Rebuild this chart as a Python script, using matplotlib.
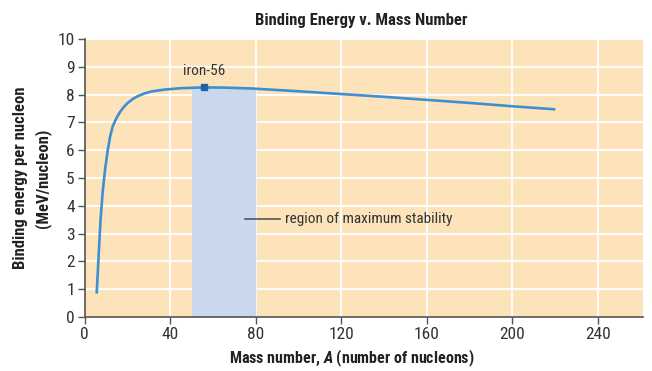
import matplotlib
matplotlib.use("Agg")
import matplotlib.pyplot as plt
from matplotlib import font_manager
import numpy as np

names = {f.name for f in font_manager.fontManager.ttflist}
prefs = ["Liberation Sans Narrow", "Arial Narrow", "Roboto Condensed", "Archivo Narrow",
         "Open Sans Condensed", "Barlow Semi Condensed", "Asap Condensed", "Liberation Sans"]
fam = next((p for p in prefs if p in names), "DejaVu Sans")
plt.rcParams['font.family'] = [fam, 'DejaVu Sans']
plt.rcParams['mathtext.fontset'] = 'custom'
plt.rcParams['mathtext.bfit'] = f'{fam}:bold:italic'

# Data
mass_number = [5.7, 6.5, 7.5, 8.5, 9.6, 10.9, 12.0, 13.2, 14.7, 16.3, 18.2, 20.2, 22.5, 24.8,
               28.0, 31.1, 37.3, 45, 56, 66, 78, 100, 120, 140, 160, 180, 200, 220]
binding_energy = [0.84, 2.06, 3.5, 4.5, 5.3, 6.02, 6.5, 6.86, 7.12, 7.34, 7.54, 7.70, 7.84, 7.94,
                  8.04, 8.11, 8.18, 8.23, 8.26, 8.25, 8.22, 8.12, 8.02, 7.92, 7.81, 7.70, 7.58, 7.47]
iron_A, iron_B = 56, 8.26
region = (50, 80)
xticks = [0, 40, 80, 120, 160, 200, 240]
yticks = list(range(0, 11))

fig = plt.figure(figsize=(6.52, 3.71), dpi=100)
ax = fig.add_axes([84.5/652, 1-317/371, (643-84.5)/652, (317-39)/371])
ax.set_facecolor('#FDE3BA')
ax.set_xlim(0, 261)
ax.set_ylim(0, 10)

for x in xticks[1:]:
    ax.axvline(x, color='white', lw=1.3, zorder=1)
for y in yticks[1:]:
    ax.axhline(y, color='white', lw=1.3, zorder=1)

A = np.array(mass_number); B = np.array(binding_energy)
mask = (A >= region[0]) & (A <= region[1])
xs = np.concatenate([[region[0]], A[mask], [region[1]]])
ys = np.concatenate([[np.interp(region[0], A, B)], B[mask], [np.interp(region[1], A, B)]])
ax.fill_between(xs, 0, ys, color='#C9D8EC', lw=0, zorder=2)

ax.plot(mass_number, binding_energy, color='#3D8FD1', lw=1.9, zorder=3,
        solid_joinstyle='round', solid_capstyle='butt')
ax.plot([iron_A], [iron_B], marker='s', ms=5, color='#1F63A6', zorder=4)
ax.text(iron_A, 8.85, 'iron-56', ha='center', va='center', fontsize=11, color='#333333')

ax.plot([75, 91.3], [3.52, 3.52], color='#555555', lw=1.2, zorder=3)
ax.text(93.5, 3.52, 'region of maximum stability', ha='left', va='center',
        fontsize=11, color='#333333')

ax.set_xticks(xticks)
ax.set_yticks(yticks)
ax.tick_params(axis='both', direction='out', length=5, width=1, color='#555555',
               labelsize=12.5, labelcolor='#333333', pad=2)
for s in ['top', 'right']:
    ax.spines[s].set_visible(False)
for s in ['left', 'bottom']:
    ax.spines[s].set_color('#555555')
    ax.spines[s].set_linewidth(1.2)

fig.text(361/652, 1-20/371, 'Binding Energy v. Mass Number', ha='center', va='center',
         fontsize=12, fontweight='bold', color='#222222')
fig.text(352/652, 1-358/371, r'Mass number, $\boldsymbol{A}$ (number of nucleons)',
         ha='center', va='center', fontsize=11.5, fontweight='bold', color='#222222')
fig.text(32/652, 1-178/371, 'Binding energy per nucleon\n(MeV/nucleon)', ha='center',
         va='center', rotation=90, fontsize=12, fontweight='bold', color='#222222',
         linespacing=1.4)

fig.savefig('out.png', dpi=100)
